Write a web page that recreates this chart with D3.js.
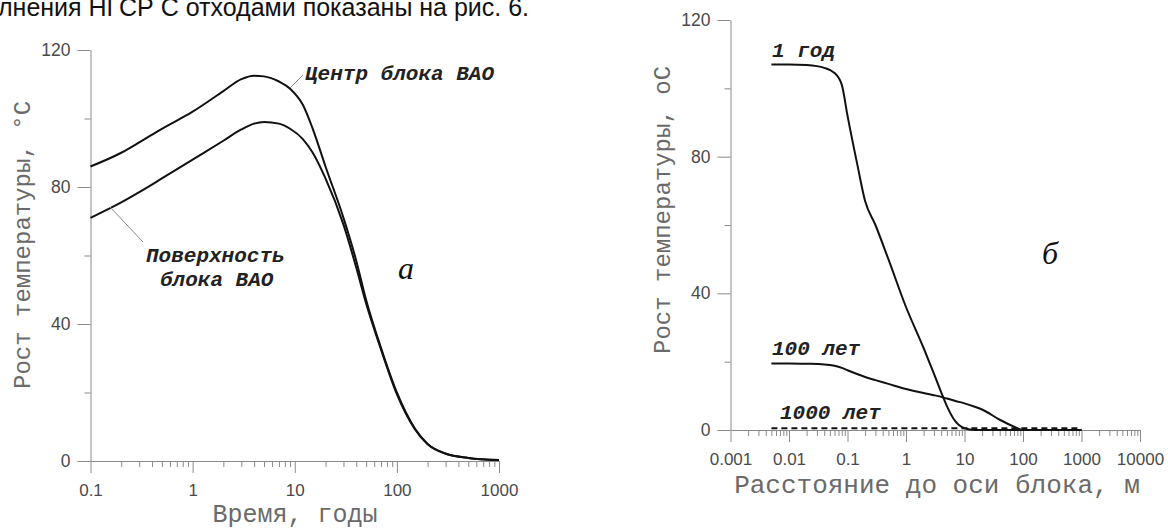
<!DOCTYPE html>
<html>
<head>
<meta charset="utf-8">
<script src="https://cdn.jsdelivr.net/npm/d3@7"></script>
<style>
  html, body { margin: 0; padding: 0; background: #fff; }
  svg { display: block; }
</style>
</head>
<body>
<div id="chart"></div>
<script>
// ---- data: panel a (time, years) ----
const timeYears = [0.1, 0.2, 0.3, 0.5, 1, 2, 3, 4, 5, 7, 9, 12, 15, 20, 30, 40, 50, 70, 100, 150, 200, 300, 500, 1000];
const centerRise = [86, 90, 93, 97, 102, 108, 111.5, 112.5, 112.3, 110.8, 108.7, 104, 97, 86, 71, 58.5, 47, 33, 20, 9.5, 5, 2.2, 0.9, 0.3];
const surfaceRise = [71, 75.5, 78.5, 82.5, 88, 93.5, 96.8, 98.5, 99, 98.5, 97, 94, 90, 82.5, 69, 56.5, 46, 32.5, 19.5, 9.3, 4.9, 2.1, 0.9, 0.3];

// ---- data: panel б (distance, m) ----
const distance = [0.005, 0.01, 0.02, 0.04, 0.06, 0.08, 0.1, 0.15, 0.2, 0.3, 0.5, 1, 2, 3, 4, 5, 7, 10, 15, 20, 40, 70, 100, 300, 1000];
const year1 = [107, 107, 106.8, 106, 104.5, 101, 92, 77, 67, 60, 50, 36, 24, 16.5, 11, 7, 2.5, 0.5, 0, 0, 0, 0, 0, 0, 0];
const year100 = [19.5, 19.5, 19.4, 19.2, 18.8, 18.2, 17.5, 16.3, 15.5, 14.6, 13.5, 12, 10.8, 10.2, 9.7, 9.2, 8.5, 7.8, 6.8, 6, 3, 1, 0, 0, 0];
const year1000 = [0.5, 0.5, 0.5, 0.5, 0.5, 0.5, 0.5, 0.5, 0.5, 0.5, 0.5, 0.5, 0.5, 0.5, 0.5, 0.5, 0.5, 0.5, 0.5, 0.5, 0.5, 0.5, 0.5, 0.5, 0.5];

const yMajor = [0, 40, 80, 120];
const yMinor = [20, 60, 100];
const timeDecades = [0.1, 1, 10, 100, 1000];
const distDecades = [0.001, 0.01, 0.1, 1, 10, 100, 1000, 10000];

const W = 1168, H = 531;
const MONO = "'Courier New', 'Liberation Mono', monospace";
const SANS = "Arial, 'Liberation Sans', sans-serif";
const AXIS_COL = "#8a8a8a";
const LABEL_COL = "#4a4a4a";
const TITLE_COL = "#6a6a6a";

const svg = d3.select("#chart").append("svg")
    .attr("width", W)
    .attr("height", H);

// cut-off line of body text at the very top
svg.append("text")
    .attr("x", -2)
    .attr("y", 16)
    .style("font-family", SANS)
    .style("font-size", "25px")
    .style("fill", "#111")
    .text("лнения НГСР С отходами показаны на рис. 6.");

function minorsBetween(decades) {
    const out = [];
    decades.slice(0, -1).forEach(d => {
        for (let k = 2; k <= 9; k++) out.push(d * k);
    });
    return out;
}

function drawAxes(x, y, opts) {
    const [y0] = y.range();
    const x0 = x.range()[0];

    // minor x ticks
    svg.append("g")
        .attr("transform", `translate(0,${y0})`)
        .call(d3.axisBottom(x).tickValues(minorsBetween(opts.decades)).tickSize(6).tickFormat(""))
        .call(g => g.select(".domain").remove())
        .call(g => g.selectAll("line").attr("stroke", AXIS_COL));

    // major x ticks + labels
    svg.append("g")
        .attr("transform", `translate(0,${y0})`)
        .call(d3.axisBottom(x).tickValues(opts.decades).tickSize(12).tickSizeOuter(0).tickPadding(opts.xPad)
            .tickFormat(d => String(d)))
        .call(g => g.select(".domain").attr("stroke", AXIS_COL))
        .call(g => g.selectAll("line").attr("stroke", AXIS_COL))
        .call(g => g.selectAll("text")
            .style("font-family", SANS).style("font-size", "17px").attr("fill", LABEL_COL));

    // minor y ticks
    svg.append("g")
        .attr("transform", `translate(${x0},0)`)
        .call(d3.axisLeft(y).tickValues(yMinor).tickSize(6).tickFormat(""))
        .call(g => g.select(".domain").remove())
        .call(g => g.selectAll("line").attr("stroke", AXIS_COL));

    // major y ticks + labels
    svg.append("g")
        .attr("transform", `translate(${x0},0)`)
        .call(d3.axisLeft(y).tickValues(yMajor).tickSize(13).tickSizeOuter(0).tickPadding(7))
        .call(g => g.select(".domain").attr("stroke", AXIS_COL))
        .call(g => g.selectAll("line").attr("stroke", AXIS_COL))
        .call(g => g.selectAll("text")
            .style("font-family", SANS).style("font-size", "17.5px").attr("fill", LABEL_COL));

    // axis titles
    svg.append("text")
        .attr("transform", `translate(${opts.yTitleX},${opts.yTitleY}) rotate(-90)`)
        .attr("text-anchor", "middle")
        .style("font-family", MONO)
        .style("font-size", opts.yTitleSize)
        .style("fill", TITLE_COL)
        .text(opts.yTitle);

    svg.append("text")
        .attr("x", opts.xTitleX)
        .attr("y", opts.xTitleY)
        .attr("text-anchor", "middle")
        .style("font-family", MONO)
        .style("font-size", opts.xTitleSize)
        .style("fill", TITLE_COL)
        .text(opts.xTitle);
}

function drawCurve(x, y, xs, ys, dash) {
    const line = d3.line()
        .x((d, i) => x(xs[i]))
        .y(d => y(d))
        .curve(d3.curveMonotoneX);
    svg.append("path")
        .datum(ys)
        .attr("d", line)
        .attr("fill", "none")
        .attr("stroke", "#111")
        .attr("stroke-width", 2)
        .attr("stroke-dasharray", dash || null);
}

function note(xp, yp, txt) {
    svg.append("text")
        .attr("x", xp)
        .attr("y", yp)
        .style("font-family", MONO)
        .style("font-weight", "bold")
        .style("font-style", "italic")
        .style("font-size", "21px")
        .style("fill", "#222")
        .text(txt);
}

function leader(x1, y1, x2, y2) {
    svg.append("line")
        .attr("x1", x1).attr("y1", y1)
        .attr("x2", x2).attr("y2", y2)
        .attr("stroke", "#888")
        .attr("stroke-width", 1);
}

function panelLetter(xp, yp, txt) {
    svg.append("text")
        .attr("x", xp)
        .attr("y", yp)
        .style("font-family", "'Times New Roman', 'Liberation Serif', serif")
        .style("font-style", "italic")
        .style("font-size", "32px")
        .style("fill", "#111")
        .text(txt);
}

// =====================
// PANEL a
// =====================
const xa = d3.scaleLog().domain([0.1, 1000]).range([90.5, 499]);
const ya = d3.scaleLinear().domain([0, 120]).range([461, 50]);

drawAxes(xa, ya, {
    decades: timeDecades,
    xPad: 11,
    yTitle: "Рост температуры, °С",
    yTitleX: 30, yTitleY: 245, yTitleSize: "24px",
    xTitle: "Время, годы",
    xTitleX: 295, xTitleY: 522, xTitleSize: "25px"
});

drawCurve(xa, ya, timeYears, centerRise);
drawCurve(xa, ya, timeYears, surfaceRise);

leader(303, 75, 290, 88);
note(305, 80, "Центр блока ВАО");
leader(110, 207, 143, 242);
note(146, 262, "Поверхность");
note(160, 286, "блока ВАО");
panelLetter(398, 279, "а");

// =====================
// PANEL б
// =====================
const xb = d3.scaleLog().domain([0.001, 10000]).range([730.5, 1140]);
const yb = d3.scaleLinear().domain([0, 120]).range([430, 20]);

drawAxes(xb, yb, {
    decades: distDecades,
    xPad: 11,
    yTitle: "Рост температуры,  оС",
    yTitleX: 670, yTitleY: 210, yTitleSize: "24px",
    xTitle: "Расстояние до оси блока, м",
    xTitleX: 937, xTitleY: 493, xTitleSize: "26px"
});

drawCurve(xb, yb, distance, year1);
drawCurve(xb, yb, distance, year100);
drawCurve(xb, yb, distance, year1000, "6,4");

note(772, 57, "1 год");
note(772, 355, "100 лет");
note(780, 419, "1000 лет");
panelLetter(1042, 264, "б");
</script>
</body>
</html>
